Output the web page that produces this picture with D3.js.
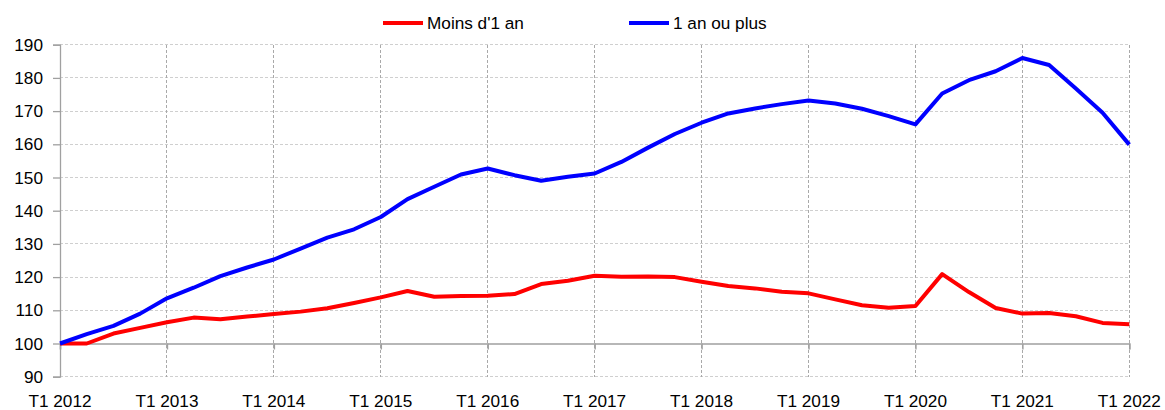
<!DOCTYPE html>
<html><head><meta charset="utf-8">
<script src="https://cdn.jsdelivr.net/npm/d3@7"></script>
<style>body{margin:0;background:#fff;} text{font-family:"Liberation Sans",Arial,sans-serif;fill:#000;}</style>
</head><body><svg id="c" width="1165" height="410"></svg>
<script>
const years = [2012,2013,2014,2015,2016,2017,2018,2019,2020,2021,2022];
const tickLabels = years.map(y => "T1 " + y);
const yTicks = [90,100,110,120,130,140,150,160,170,180,190];
const seriesNames = ["Moins d'1 an", "1 an ou plus"];
const seriesColors = ["#ff0000", "#0000ff"];
const moins1an = [100,100.0,103.0,104.7,106.4,107.8,107.3,108.1,108.9,109.6,110.6,112.2,113.9,115.8,114.1,114.3,114.4,114.9,117.9,118.9,120.4,120.1,120.2,120.0,118.6,117.3,116.6,115.6,115.1,113.3,111.5,110.8,111.3,120.9,115.5,110.7,109.0,109.2,108.2,106.2,105.8];
const unAnOuPlus = [100,102.8,105.3,109.0,113.6,116.8,120.3,122.9,125.3,128.6,131.9,134.4,138.1,143.5,147.2,150.9,152.7,150.7,149.0,150.2,151.2,154.7,159.0,163.1,166.5,169.3,170.8,172.1,173.2,172.3,170.7,168.5,166.0,175.3,179.3,182.0,186.0,183.9,176.8,169.5,159.9];

const svg = d3.select("#c");
const x = d3.scaleLinear().domain([0, 40]).range([60, 1129.3]);
const y = d3.scaleLinear().domain([90, 190]).range([376.7, 44.7]);
const fs = "17.2px";

// horizontal gridlines
svg.append("g").selectAll("line").data(yTicks.filter(v => v !== 100)).join("line")
  .attr("x1", x(0)).attr("x2", x(40)).attr("y1", d => y(d)).attr("y2", d => y(d))
  .attr("stroke", "#cfcfcf").attr("stroke-width", 1).attr("stroke-dasharray", "3,2")
  .attr("shape-rendering", "crispEdges");

// vertical gridlines
svg.append("g").selectAll("line").data(years.map((d,i) => i*4).filter(d => d > 0)).join("line")
  .attr("x1", d => x(d)).attr("x2", d => x(d)).attr("y1", y(190)).attr("y2", y(90))
  .attr("stroke", "#a9a9a9").attr("stroke-width", 1).attr("stroke-dasharray", "3,2")
  .attr("shape-rendering", "crispEdges");

// y axis
const yAxis = d3.axisLeft(y).tickValues(yTicks).tickSize(7).tickPadding(10).tickFormat(d3.format("d"));
const gy = svg.append("g").attr("transform", `translate(${x(0)},0)`).call(yAxis);
gy.select(".domain").attr("stroke", "#a0a0a0").attr("stroke-width", 1.3);
gy.selectAll(".tick line").attr("stroke", "#a0a0a0").attr("stroke-width", 1.3);
gy.selectAll("text").style("font-size", fs).style("font-family", '"Liberation Sans",Arial,sans-serif').attr("fill", "#000");

// x axis at 100
const xAxis = d3.axisBottom(x).tickValues(years.map((d,i) => i*4)).tickSize(6).tickFormat(() => "");
const gx = svg.append("g").attr("transform", `translate(0,${y(100)})`).call(xAxis);
gx.select(".domain").attr("stroke", "#a0a0a0").attr("stroke-width", 1.3);
gx.selectAll(".tick line").attr("stroke", "#a0a0a0").attr("stroke-width", 1.5);

// x labels at bottom
svg.append("g").selectAll("text").data(tickLabels).join("text")
  .attr("x", (d,i) => x(i*4)).attr("y", 407).attr("text-anchor", "middle")
  .style("font-size", fs).text(d => d);

// lines
const line = d3.line().x((d,i) => x(i)).y(d => y(d));
[moins1an, unAnOuPlus].forEach((s, k) => {
  svg.append("path").datum(s).attr("d", line).attr("fill", "none")
    .attr("stroke", seriesColors[k]).attr("stroke-width", 4).attr("stroke-linejoin", "round");
});

// legend
const legendX = [383, 629];
seriesNames.forEach((n, k) => {
  svg.append("line").attr("x1", legendX[k]).attr("x2", legendX[k] + 40).attr("y1", 23).attr("y2", 23)
    .attr("stroke", seriesColors[k]).attr("stroke-width", 4);
  svg.append("text").attr("x", legendX[k] + 44).attr("y", 29).style("font-size", fs).text(n);
});
</script></body></html>
